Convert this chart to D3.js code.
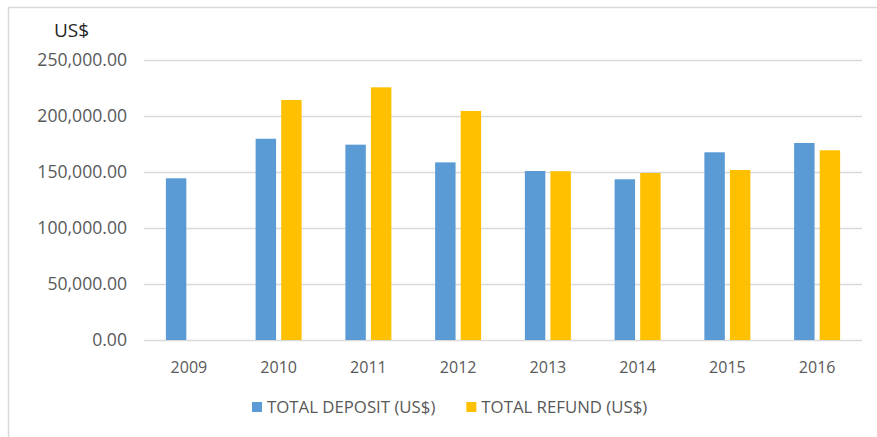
<!DOCTYPE html>
<html>
<head>
  <meta charset="utf-8">
  <script src="https://d3js.org/d3.v7.min.js"></script>
  <style>
    body { margin: 0; background: #fff; }
    svg text { font-family: "Open Sans", "Liberation Sans", sans-serif; }
  </style>
</head>
<body>
<div id="chart"></div>
<script>
// data
const years = ["2009", "2010", "2011", "2012", "2013", "2014", "2015", "2016"]
const seriesNames = ["TOTAL DEPOSIT (US$)", "TOTAL REFUND (US$)"]
const deposit = [144400, 179700, 174400, 158600, 150900, 143500, 167600, 175900]
const refund = [0, 214300, 225600, 204500, 150700, 149100, 151800, 169400]
const yTicks = [0, 50000, 100000, 150000, 200000, 250000]
const colors = ["#5B9BD5", "#FFC000"]

const width = 877, height = 437

const svg = d3.select("#chart")
  .append("svg")
    .attr("width", width)
    .attr("height", height)

// chart frame (cropped at right and bottom)
svg.append("rect")
  .attr("x", 8.5).attr("y", 7.5)
  .attr("width", 1000).attr("height", 1000)
  .attr("fill", "none")
  .attr("stroke", "#d9d9d9")
  .attr("stroke-width", 1.5)

const y = d3.scaleLinear()
  .domain([0, 250000])
  .range([340, 60])

const x0 = d3.scaleBand()
  .domain(years)
  .range([144, 862])
  .paddingInner(0.4875)
  .paddingOuter(0.24375)

const x1 = d3.scaleBand()
  .domain(seriesNames)
  .range([0, x0.bandwidth()])
  .paddingInner(0.2)

// gridlines
svg.append("g")
  .selectAll("line")
  .data(yTicks)
  .join("line")
    .attr("x1", 144).attr("x2", 862)
    .attr("y1", d => Math.round(y(d)) + 0.5)
    .attr("y2", d => Math.round(y(d)) + 0.5)
    .attr("stroke", "#d9d9d9")
    .attr("stroke-width", 1.5)

// y axis labels
const fmt = d3.format(",.2f")
svg.append("g")
  .selectAll("text")
  .data(yTicks)
  .join("text")
    .attr("x", 127)
    .attr("y", d => y(d))
    .attr("dy", "0.36em")
    .attr("text-anchor", "end")
    .attr("fill", "#595959")
    .style("font-size", "17.6px")
    .text(d => fmt(d))

svg.append("text")
  .attr("x", 54)
  .attr("y", 37)
  .attr("fill", "#262626")
  .style("font-size", "19px")
  .text("US$")

// bars
const rows = years.map((yr, i) => ({ year: yr, values: [deposit[i], refund[i]] }))

const groups = svg.append("g")
  .selectAll("g")
  .data(rows)
  .join("g")
    .attr("transform", d => `translate(${x0(d.year)},0)`)

groups.selectAll("rect")
  .data(d => d.values.map((v, k) => ({ key: seriesNames[k], value: v, k: k })))
  .join("rect")
    .attr("x", d => x1(d.key))
    .attr("y", d => y(d.value))
    .attr("width", x1.bandwidth())
    .attr("height", d => y(0) - y(d.value))
    .attr("fill", d => colors[d.k])

// x axis labels
svg.append("g")
  .selectAll("text")
  .data(years)
  .join("text")
    .attr("x", d => x0(d) + x0.bandwidth() / 2)
    .attr("y", 373)
    .attr("text-anchor", "middle")
    .attr("fill", "#595959")
    .style("font-size", "16px")
    .text(d => d)

// legend
const legend = svg.append("g")
let lx = 252
seriesNames.forEach((name, k) => {
  legend.append("rect")
    .attr("x", lx).attr("y", 402)
    .attr("width", 10).attr("height", 10)
    .attr("fill", colors[k])
  const t = legend.append("text")
    .attr("x", lx + 15)
    .attr("y", 413)
    .attr("fill", "#595959")
    .style("font-size", "16.8px")
    .text(name)
  lx = lx + 15 + t.node().getComputedTextLength() + 31
})
</script>
</body>
</html>
